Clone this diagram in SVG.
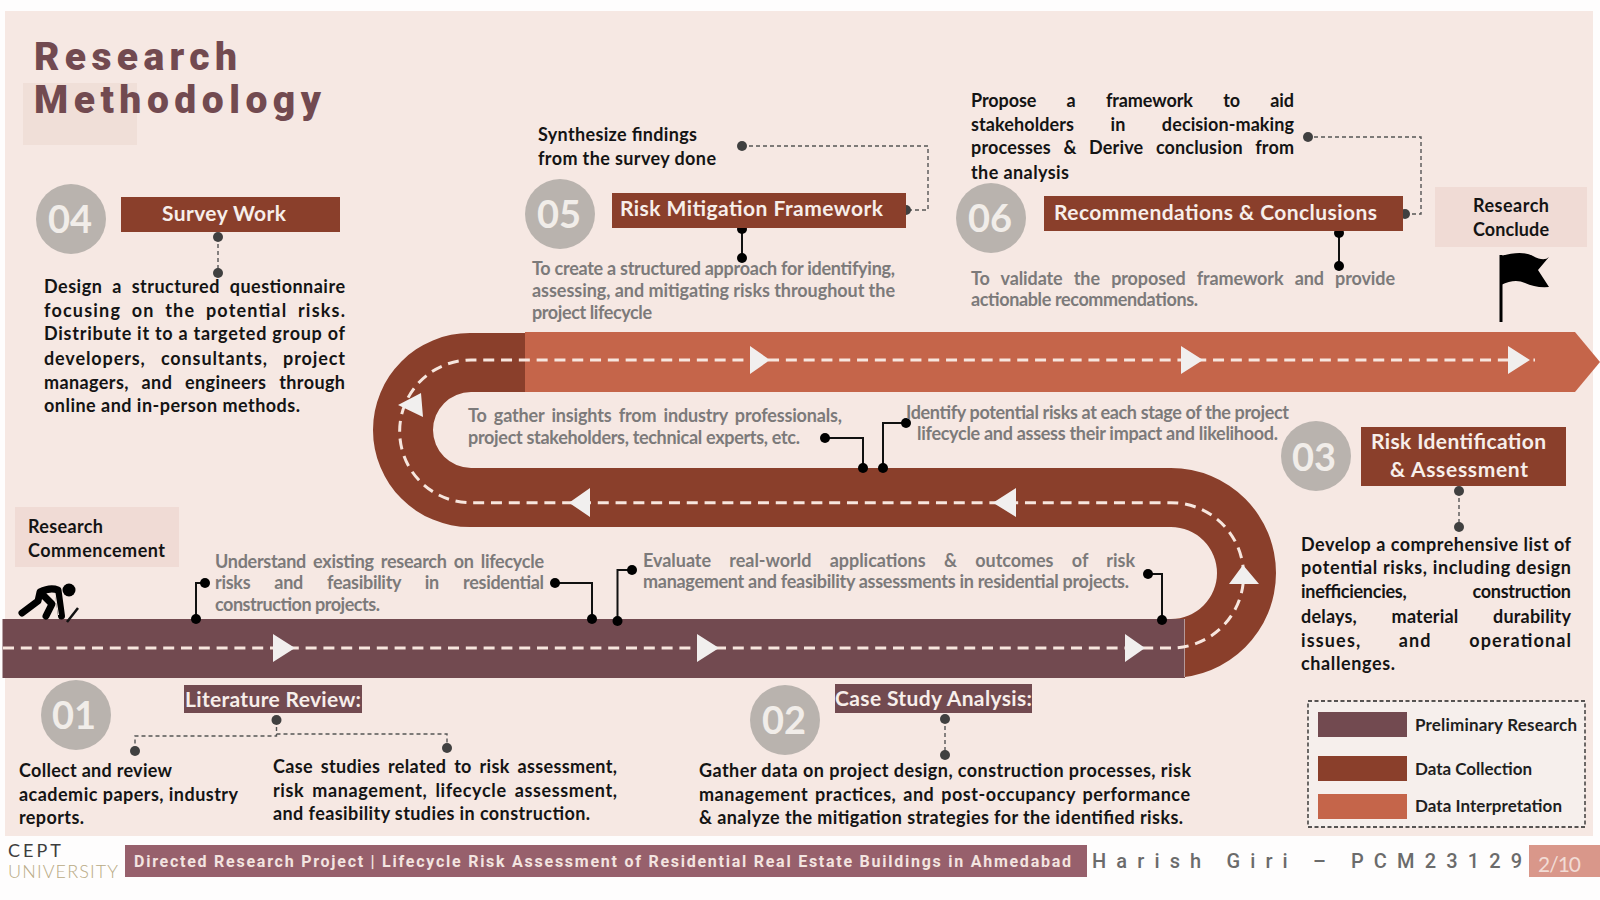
<svg xmlns="http://www.w3.org/2000/svg" width="1600" height="900" viewBox="0 0 1600 900">
<style>
text{font-family:"Lato","Carlito","Liberation Sans",sans-serif;font-weight:700}
.b{font-size:18px;fill:#141414;transform:translateY(1.200px)}
.g{font-size:18px;fill:#7c7a7a;transform:translateY(1.500px)}
.h{font-size:21px;fill:#f7eeea}
.n{font-size:38px;fill:#f1ede9;text-anchor:middle}
.c{fill:#b9b3ae}
.r1{fill:#724a50}.r2{fill:#8a3f2b}.r3{fill:#c5654a}
.m{fill:#f0dbd5}
.dash{fill:none;stroke:#f7e6de;stroke-width:3;stroke-dasharray:11 6.8}
.tri{fill:#f1efee}
.k{fill:none;stroke:#111;stroke-width:2}
.kd{fill:#000}
.d{fill:none;stroke:#555;stroke-width:1.4;stroke-dasharray:4 3}
.dd{fill:#404040}
.l{font-size:17px;fill:#1f1f1f;transform:translateY(1px)}
</style>
<rect width="1600" height="900" fill="#fefdfd"/>
<rect x="5" y="11" width="1588" height="825" fill="#f6e8e3"/>
<g id="title">
<rect x="23" y="83" width="114" height="62" fill="#f0dfd8"/>
<text x="34" y="70" font-size="39" style="font-family:Roboto,sans-serif;font-weight:900;letter-spacing:3px" fill="#724a50" textLength="206">Research</text>
<text x="34" y="113" font-size="39" style="font-family:Roboto,sans-serif;font-weight:900;letter-spacing:3px" fill="#724a50" textLength="290">Methodology</text>
</g>
<g id="road">
<path class="r2" d="M526 333H470A97 97 0 0 0 470 527H1171A46 46 0 0 1 1171 619H1185V678H1171A105 105 0 0 0 1171 468H471A37.5 37.5 0 0 1 471 392H526Z"/>
<rect class="r1" x="2.500" y="619" width="1182" height="59"/>
<path class="r3" d="M525 332H1575L1600 362L1575 392H525Z"/>
<path class="dash" d="M3 648H1171A72.600 72.600 0 0 0 1171 502.700H471A71.350 71.350 0 0 1 471 360H1535"/>
<path class="tri" d="M273 634L295 648L273 662ZM697 634L719 648L697 662ZM1125 634L1145 648L1125 662ZM1243 565L1259 584H1229ZM569 502.700L590 488V517ZM993 502.700L1016 488V517ZM398 405L421 393L423 417ZM750 346L770 360L750 374ZM1181 346L1203 360L1181 374ZM1508 346L1530 360L1508 374Z"/>
</g>
<g id="connectors">
<path class="k" d="M205 583H196V619M555 583H592V619M617.500 621V570H632M1148 574H1162V620M825 438H863V468M883 468V423H906M742 229V258M1339 233V266"/>
<g class="kd"><circle cx="205" cy="583" r="5"/><circle cx="196" cy="619" r="5"/><circle cx="555" cy="583" r="5"/><circle cx="592" cy="619" r="5"/><circle cx="617.500" cy="621" r="5"/><circle cx="632" cy="570" r="5"/><circle cx="1148" cy="574" r="5"/><circle cx="1162" cy="620" r="5"/><circle cx="825" cy="438" r="5"/><circle cx="863" cy="468" r="5"/><circle cx="883" cy="468" r="5"/><circle cx="906" cy="423" r="5"/><circle cx="742" cy="229" r="5"/><circle cx="742" cy="258" r="5"/><circle cx="1339" cy="233" r="5"/><circle cx="1339" cy="266" r="5"/></g>
<path class="d" d="M218 237V273M742 146H928V210H906M1405 214H1421V137H1308M945 719V755M1459 491V527M276.500 720V736H135V751M276.500 734H447V748"/>
<g class="dd"><circle cx="218" cy="237" r="5"/><circle cx="218" cy="273" r="5"/><circle cx="742" cy="146" r="5"/><circle cx="906" cy="210" r="5"/><circle cx="1405" cy="214" r="5"/><circle cx="1308" cy="137" r="5"/><circle cx="945" cy="719" r="5"/><circle cx="945" cy="755" r="5"/><circle cx="1459" cy="491" r="5"/><circle cx="1459" cy="527" r="5"/><circle cx="276.500" cy="720" r="5"/><circle cx="135" cy="751" r="5"/><circle cx="447" cy="748" r="5"/></g>
</g>
<g id="start">
<rect class="m" x="15" y="507" width="164" height="60"/>
<text class="b" x="28" y="532" textLength="75">Research</text>
<text class="b" x="28" y="556" textLength="137">Commencement</text>
<g id="runner">
<circle cx="69" cy="590" r="6.500" fill="#000"/>
<path d="M22 613L38 601L40 592Q50 587 58 590L61.500 616M44 596L52 604L46 616" fill="none" stroke="#000" stroke-width="7" stroke-linecap="round" stroke-linejoin="round"/>
<path d="M55 593L58.500 615" stroke="#f6e8e3" stroke-width="1"/>
<path d="M78 608L67 622" stroke="#111" stroke-width="2.500"/>
</g>
</g>
<g id="finish">
<rect class="m" x="1435" y="187" width="152" height="60"/>
<text class="b" x="1473" y="211" textLength="76">Research</text>
<text class="b" x="1473" y="235" textLength="76">Conclude</text>
<g id="flag">
<path d="M1501 255V322" stroke="#000" stroke-width="3"/>
<path d="M1501 256Q1522 250 1533 256T1549 257L1538 270L1549 287Q1535 288 1525 283T1501 285Z" fill="#000"/>
</g>
</g>
<g id="node-01">
<circle class="c" cx="76" cy="715" r="35"/><text class="n" x="74" y="729">01</text>
<rect class="r1" x="184" y="685" width="178" height="28"/>
<text class="h" x="185" y="707" textLength="176">Literature Review:</text>
<text class="b" x="19" y="776" textLength="153">Collect and review</text>
<text class="b" x="19" y="800" textLength="219">academic papers, industry</text>
<text class="b" x="19" y="823" textLength="65">reports.</text>
<text class="b" x="273" y="772" textLength="344" style="word-spacing:3px">Case studies related to risk assessment,</text>
<text class="b" x="273" y="796" textLength="344" style="word-spacing:3px">risk management, lifecycle assessment,</text>
<text class="b" x="273" y="819" textLength="317">and feasibility studies in construction.</text>
<text class="g" x="215" y="566" textLength="329" style="word-spacing:3px">Understand existing research on lifecycle</text>
<text class="g" x="215" y="587" textLength="329" style="word-spacing:20px">risks and feasibility in residential</text>
<text class="g" x="215" y="609" textLength="165">construction projects.</text>
</g>
<g id="node-02">
<circle class="c" cx="785" cy="720" r="35"/><text class="n" x="784" y="734">02</text>
<rect class="r1" x="835" y="684" width="197" height="29"/>
<text class="h" x="835" y="706" textLength="197">Case Study Analysis:</text>
<text class="b" x="699" y="776" textLength="492">Gather data on project design, construction processes, risk</text>
<text class="b" x="699" y="800" textLength="491" style="word-spacing:2px">management practices, and post-occupancy performance</text>
<text class="b" x="699" y="823" textLength="484">&amp; analyze the mitigation strategies for the identified risks.</text>
<text class="g" x="643" y="565" textLength="492" style="word-spacing:14px">Evaluate real-world applications &amp; outcomes of risk</text>
<text class="g" x="643" y="586" textLength="486">management and feasibility assessments in residential projects.</text>
</g>
<g id="node-03">
<circle class="c" cx="1316" cy="456" r="35"/><text class="n" x="1314" y="471">03</text>
<rect class="r2" x="1361" y="427" width="205" height="59"/>
<text class="h" x="1371" y="449" textLength="175">Risk Identification</text>
<text class="h" x="1390" y="477" textLength="138">&amp; Assessment</text>
<text class="b" x="1301" y="550" textLength="270">Develop a comprehensive list of</text>
<text class="b" x="1301" y="573" textLength="270">potential risks, including design</text>
<text class="b" x="1301" y="597" textLength="270" style="word-spacing:62px">inefficiencies, construction</text>
<text class="b" x="1301" y="622" textLength="270" style="word-spacing:30px">delays, material durability</text>
<text class="b" x="1301" y="646" textLength="270" style="word-spacing:32px">issues, and operational</text>
<text class="b" x="1301" y="669" textLength="94">challenges.</text>
<text class="g" x="906" y="417" textLength="383">Identify potential risks at each stage of the project</text>
<text class="g" x="917" y="438" textLength="361">lifecycle and assess their impact and likelihood.</text>
</g>
<g id="node-04">
<circle class="c" cx="71" cy="219" r="35"/><text class="n" x="70" y="233">04</text>
<rect class="r2" x="121" y="197" width="219" height="35"/>
<text class="h" x="162" y="221" textLength="124">Survey Work</text>
<text class="b" x="44" y="292" textLength="301" style="word-spacing:5px">Design a structured questionnaire</text>
<text class="b" x="44" y="316" textLength="301" style="word-spacing:5px">focusing on the potential risks.</text>
<text class="b" x="44" y="339" textLength="301">Distribute it to a targeted group of</text>
<text class="b" x="44" y="364" textLength="301" style="word-spacing:10px">developers, consultants, project</text>
<text class="b" x="44" y="388" textLength="301" style="word-spacing:8px">managers, and engineers through</text>
<text class="b" x="44" y="411" textLength="256">online and in-person methods.</text>
<text class="g" x="468" y="420" textLength="374" style="word-spacing:3px">To gather insights from industry professionals,</text>
<text class="g" x="468" y="442" textLength="332">project stakeholders, technical experts, etc.</text>
</g>
<g id="node-05">
<circle class="c" cx="560" cy="214" r="35"/><text class="n" x="559" y="228">05</text>
<rect class="r2" x="612" y="193" width="294" height="35"/>
<text class="h" x="620" y="216" textLength="263">Risk Mitigation Framework</text>
<text class="b" x="538" y="140" textLength="159">Synthesize findings</text>
<text class="b" x="538" y="164" textLength="178">from the survey done</text>
<text class="g" x="532" y="273" textLength="363">To create a structured approach for identifying,</text>
<text class="g" x="532" y="295" textLength="363">assessing, and mitigating risks throughout the</text>
<text class="g" x="532" y="317" textLength="120">project lifecycle</text>
</g>
<g id="node-06">
<circle class="c" cx="991" cy="218" r="35"/><text class="n" x="990" y="232">06</text>
<rect class="r2" x="1044" y="196" width="359" height="35"/>
<text class="h" x="1054" y="220" textLength="323">Recommendations &amp; Conclusions</text>
<text class="b" x="971" y="106" textLength="323" style="word-spacing:26px">Propose a framework to aid</text>
<text class="b" x="971" y="130" textLength="323" style="word-spacing:32px">stakeholders in decision-making</text>
<text class="b" x="971" y="153" textLength="323" style="word-spacing:8px">processes &amp; Derive conclusion from</text>
<text class="b" x="971" y="178" textLength="98">the analysis</text>
<text class="g" x="971" y="283" textLength="424" style="word-spacing:7px">To validate the proposed framework and provide</text>
<text class="g" x="971" y="304" textLength="227">actionable recommendations.</text>
</g>
<g id="legend">
<rect x="1308" y="701" width="277" height="126" fill="#f6efec" stroke="#222" stroke-width="1.300" stroke-dasharray="4 2.500"/>
<rect class="r1" x="1318" y="712" width="89" height="25"/>
<rect class="r2" x="1318" y="756" width="89" height="25"/>
<rect class="r3" x="1318" y="794" width="89" height="25"/>
<text class="l" x="1415" y="730" textLength="162">Preliminary Research</text>
<text class="l" x="1415" y="774" textLength="117">Data Collection</text>
<text class="l" x="1415" y="811" textLength="147">Data Interpretation</text>
</g>
<g id="footer">
<text x="8" y="857" font-size="18" fill="#3d3d3d" style="font-weight:400" textLength="53">CEPT</text>
<text x="8" y="878" font-size="18" fill="#b9aa84" style="font-weight:300" textLength="110">UNIVERSITY</text>
<rect x="125" y="845" width="962" height="32" fill="#97606c"/>
<text x="134" y="867" font-size="16" fill="#f3e4e0" style="font-family:Roboto,sans-serif;letter-spacing:1px" textLength="938">Directed Research Project | Lifecycle Risk Assessment of Residential Real Estate Buildings in Ahmedabad</text>
<text x="1092" y="868" font-size="20" fill="#6b6b6b" style="font-family:Roboto,sans-serif;font-weight:500;letter-spacing:10px" textLength="440">Harish Giri – PCM23129</text>
<rect x="1529" y="845" width="71" height="32" fill="#d9978a"/>
<text x="1538" y="872" font-size="21" fill="#f2dcd5" style="font-weight:400" textLength="43">2/10</text>
</g>
</svg>
